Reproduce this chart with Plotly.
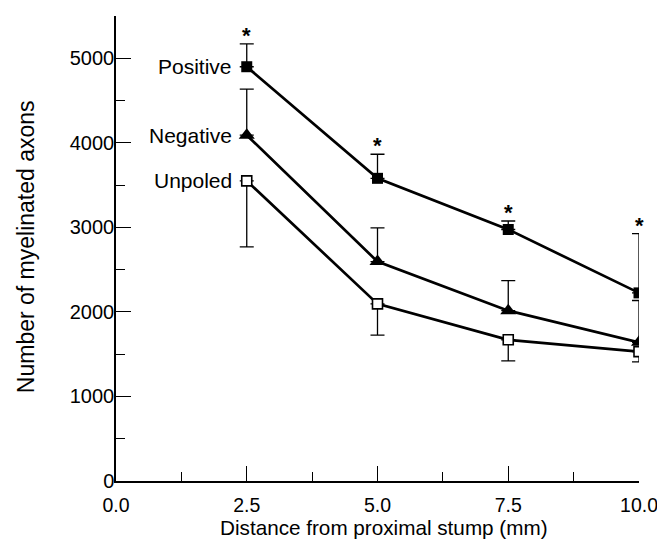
import plotly.graph_objects as go

# ---- data ----
distance = [2.5, 5.0, 7.5, 10.0]
positive = [4900, 3580, 2975, 2225]
positive_err = [270, 285, 100, 700]
negative = [4090, 2595, 2015, 1640]
negative_err = [545, 400, 355, 495]
unpoled = [3550, 2095, 1670, 1530]
unpoled_err = [780, 370, 250, 120]
series_names = ["Positive", "Negative", "Unpoled"]
x_tickvals = [0, 2.5, 5, 7.5, 10]
x_ticktext = ["0.0", "2.5", "5.0", "7.5", "10.0"]
y_tickvals = [0, 1000, 2000, 3000, 4000, 5000]
y_ticktext = ["0", "1000", "2000", "3000", "4000", "5000"]
x_title = "Distance from proximal stump (mm)"
y_title = "Number of myelinated axons"

FONT = "Liberation Sans, Arial, Helvetica, sans-serif"
zeros = [0] * len(distance)

fig = go.Figure()

# Unpoled: open squares, error downward
fig.add_trace(go.Scatter(
    x=distance, y=unpoled, mode="lines+markers", name=series_names[2],
    line=dict(color="black", width=2.7),
    marker=dict(symbol="square", size=10, color="white", line=dict(color="black", width=1.6)),
    error_y=dict(type="data", symmetric=False, array=zeros, arrayminus=unpoled_err,
                 color="black", thickness=1.3, width=7),
))
# Negative: filled triangles, error upward
fig.add_trace(go.Scatter(
    x=distance, y=negative, mode="lines+markers", name=series_names[1],
    line=dict(color="black", width=2.7),
    marker=dict(symbol="triangle-up", size=14, color="black"),
    error_y=dict(type="data", symmetric=False, array=negative_err, arrayminus=zeros,
                 color="black", thickness=1.3, width=7),
))
# Positive: filled squares, error upward
fig.add_trace(go.Scatter(
    x=distance, y=positive, mode="lines+markers", name=series_names[0],
    line=dict(color="black", width=2.7),
    marker=dict(symbol="square", size=11, color="black"),
    error_y=dict(type="data", symmetric=False, array=positive_err, arrayminus=zeros,
                 color="black", thickness=1.3, width=7),
))

annotations = []
# series labels left of the first point
for name, vals in zip(series_names, [positive, negative, unpoled]):
    annotations.append(dict(x=distance[0], y=vals[0], xref="x", yref="y", text=name,
                            showarrow=False, xanchor="right", yanchor="middle",
                            xshift=-13, font=dict(family=FONT, size=21, color="black")))
# significance stars above Positive error bars
for xv, v, e in zip(distance, positive, positive_err):
    annotations.append(dict(x=xv, y=v + e, xref="x", yref="y", text="<b>*</b>",
                            showarrow=False, xanchor="center", yanchor="bottom",
                            yshift=-6, font=dict(family=FONT, size=22, color="black")))
# axis titles
annotations.append(dict(x=0.513, y=-0.099, xref="paper", yref="paper", text=x_title,
                        showarrow=False, xanchor="center", yanchor="middle",
                        font=dict(family=FONT, size=20.7, color="black")))
annotations.append(dict(x=-0.172, y=0.503, xref="paper", yref="paper", text=y_title,
                        showarrow=False, xanchor="center", yanchor="middle", textangle=-90,
                        font=dict(family=FONT, size=23, color="black")))

fig.update_layout(
    width=657, height=548,
    margin=dict(l=116, r=18, t=16, b=67, autoexpand=False),
    paper_bgcolor="white", plot_bgcolor="white",
    showlegend=False,
    font=dict(family=FONT, size=20, color="black"),
    annotations=annotations,
    xaxis=dict(
        range=[0, 10], showgrid=False, zeroline=False,
        showline=True, linecolor="black", linewidth=1.5,
        ticks="inside", ticklen=15, tickwidth=1.3, tickcolor="black",
        tickvals=x_tickvals, ticktext=x_ticktext,
        minor=dict(ticks="inside", ticklen=9, tickwidth=1.2, tickcolor="black",
                   tick0=0, dtick=1.25, showgrid=False),
        ticklabelstandoff=6,
        ticklabeloverflow="allow",
        tickfont=dict(family=FONT, size=19.5),
        automargin=False,
    ),
    yaxis=dict(
        range=[0, 5500], showgrid=False, zeroline=False,
        showline=True, linecolor="black", linewidth=1.5,
        ticks="inside", ticklen=15, tickwidth=1.3, tickcolor="black",
        tickvals=y_tickvals, ticktext=y_ticktext,
        minor=dict(ticks="inside", ticklen=9, tickwidth=1.2, tickcolor="black",
                   tick0=0, dtick=500, showgrid=False),
        ticklabelstandoff=-4,
        tickfont=dict(family=FONT, size=20),
        automargin=False,
    ),
)

# remove the default 8 px page margin so the figure fills the window exactly
fig.write_html("out.html",
               config={"displayModeBar": False},
               post_script="document.body.style.margin='0';"
                           "document.body.style.overflow='hidden';")
